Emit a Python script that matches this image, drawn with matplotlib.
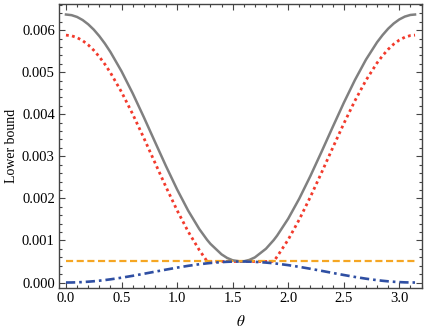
import matplotlib
matplotlib.use("Agg")
import matplotlib.pyplot as plt
from matplotlib.ticker import MultipleLocator, FormatStrFormatter

theta = [0.0, 0.05, 0.1, 0.15, 0.2, 0.25, 0.3, 0.35, 0.4, 0.5, 0.6, 0.7, 0.8, 0.9, 1.0,
         1.1, 1.2, 1.27, 1.3, 1.4, 1.45, 1.5, 1.571, 1.6, 1.65, 1.7, 1.8, 1.87, 1.9,
         2.0, 2.1, 2.2, 2.3, 2.4, 2.5, 2.6, 2.7, 2.8, 2.85, 2.9, 2.95, 3.0, 3.05, 3.1,
         3.1416]

gray_vals = [0.00637, 0.006355, 0.006312, 0.006239, 0.006138, 0.006011, 0.005857,
             0.005680, 0.005480, 0.005021, 0.004499, 0.003934, 0.003349, 0.002768,
             0.002214, 0.001708, 0.001271, 0.001015, 0.000920, 0.000670, 0.000585,
             0.000529, 0.000500, 0.000505, 0.000537, 0.000597, 0.000803, 0.001010,
             0.001114, 0.001517, 0.001996, 0.002533, 0.003106, 0.003692, 0.004268,
             0.004810, 0.005298, 0.005711, 0.005883, 0.006034, 0.006157, 0.006253,
             0.006321, 0.006360, 0.00637]

red_vals = [0.00588, 0.005865, 0.005821, 0.005749, 0.005648, 0.005520, 0.005366,
            0.005189, 0.004988, 0.004528, 0.004005, 0.003440, 0.002854, 0.002272,
            0.001717, 0.001210, 0.000772, 0.000505, 0.000500, 0.000500, 0.000500,
            0.000500, 0.000500, 0.000500, 0.000500, 0.000500, 0.000500, 0.000505,
            0.000615, 0.001018, 0.001499, 0.002036, 0.002610, 0.003197, 0.003774,
            0.004317, 0.004806, 0.005220, 0.005393, 0.005543, 0.005667, 0.005763,
            0.005831, 0.005870, 0.00588]

orange_vals = [0.0005] * len(theta)

blue_vals = [0.0, 0.0000012, 0.0000050, 0.0000112, 0.0000197, 0.0000306, 0.0000437,
             0.0000588, 0.0000758, 0.0001149, 0.0001594, 0.0002075, 0.0002573,
             0.0003068, 0.0003540, 0.0003971, 0.0004344, 0.000456, 0.0004642,
             0.0004856, 0.0004927, 0.0004975, 0.0005, 0.0004996, 0.0004969, 0.0004917,
             0.0004742, 0.000457, 0.0004477, 0.0004134, 0.0003726, 0.0003268,
             0.0002780, 0.0002281, 0.0001791, 0.0001329, 0.0000913, 0.0000561,
             0.0000414, 0.0000286, 0.0000181, 0.0000100, 0.0000042, 0.0000009, 0.0]

x_ticks = [0.0, 0.5, 1.0, 1.5, 2.0, 2.5, 3.0]
y_ticks = [0.000, 0.001, 0.002, 0.003, 0.004, 0.005, 0.006]

plt.rcParams['font.family'] = ['Liberation Serif', 'DejaVu Serif']
plt.rcParams['mathtext.fontset'] = 'stix'

fig = plt.figure(figsize=(4.25, 3.33), dpi=100)
ax = fig.add_axes([59/425, 1 - 288/333, (422 - 59)/425, (288 - 4)/333])

ax.plot(theta, red_vals, color='#f23a2c', lw=2.0, linestyle=(0, (1.0, 1.2)), zorder=2)
ax.plot(theta, gray_vals, color='#808080', lw=1.8, zorder=3)
ax.plot(theta, orange_vals, color='#f5a623', lw=1.6, linestyle=(0, (3.2, 1.6)), zorder=4)
ax.plot(theta, blue_vals, color='#2f4fa3', lw=1.9, linestyle=(0, (3.5, 1.5, 1.0, 1.5)), zorder=5)

ax.set_xlim(-0.0628, 3.2044)
ax.set_ylim(-0.00013, 0.00662)
ax.set_xticks(x_ticks)
ax.set_yticks(y_ticks)
ax.xaxis.set_major_formatter(FormatStrFormatter('%.1f'))
ax.yaxis.set_major_formatter(FormatStrFormatter('%.3f'))
ax.xaxis.set_minor_locator(MultipleLocator(0.1))
ax.yaxis.set_minor_locator(MultipleLocator(0.0002))

ax.tick_params(which='both', direction='in', top=True, right=True, colors='#444444',
               labelcolor='black', labelsize=10.5, width=0.8)
ax.tick_params(which='major', length=4.5, pad=3)
ax.tick_params(which='minor', length=2.5)
for s in ax.spines.values():
    s.set_color('#444444')
    s.set_linewidth(1.0)

ax.set_xlabel(r'$\theta$', fontsize=11, labelpad=6)
ax.set_ylabel('Lower bound', fontsize=10, labelpad=3)

fig.savefig('out.png', dpi=100)
